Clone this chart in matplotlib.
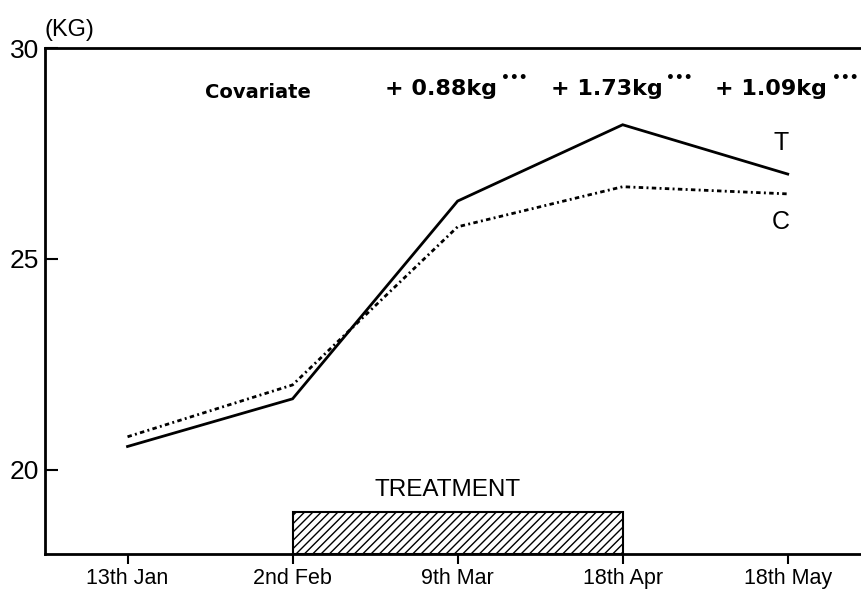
import matplotlib
matplotlib.use("Agg")
import matplotlib.pyplot as plt
from matplotlib.patches import Rectangle

plt.rcParams['font.family'] = ['Liberation Sans', 'DejaVu Sans']

dates = ["13th Jan", "2nd Feb", "9th Mar", "18th Apr", "18th May"]
treated = [20.55, 21.68, 26.37, 28.18, 27.01]
control = [20.78, 22.01, 25.76, 26.71, 26.54]
differences = ["+ 0.88kg", "+ 1.73kg", "+ 1.09kg"]
diff_positions = [2, 3, 4]
yticks = [20, 25, 30]
treatment_start, treatment_end = 1, 3

fig = plt.figure(figsize=(8.62, 5.90), dpi=100)
ax = fig.add_axes([45/862, 36/590, 1 - 45/862, (554 - 48)/590])

x = list(range(len(dates)))
ax.plot(x, treated, color='black', lw=2.0, solid_joinstyle='miter')
ax.plot(x, control, color='black', lw=2.0, linestyle=(0, (1.6, 1.2, 0.7, 1.2)))

ax.add_patch(Rectangle((treatment_start, 18), treatment_end - treatment_start, 1.0,
                       facecolor='white', edgecolor='black', lw=1.5, hatch='////'))
ax.text((treatment_start + treatment_end) / 2 - 0.06, 19.52, "TREATMENT",
        ha='center', va='center', fontsize=17.5)

ax.set_xlim(-0.5, 4.45)
ax.set_ylim(18, 30)
ax.set_xticks(x)
ax.set_xticklabels(dates, fontsize=15.5)
ax.set_yticks(yticks)
ax.set_yticklabels([str(v) for v in yticks], fontsize=19)
ax.tick_params(axis='x', direction='out', length=7, width=1.5, pad=3)
ax.tick_params(axis='y', direction='in', length=9, width=1.5, pad=4)

for s in ['left', 'top', 'bottom']:
    ax.spines[s].set_linewidth(2.0)
ax.spines['right'].set_visible(False)

ax.text(-0.5, 30.17, "(KG)", fontsize=17, ha='left', va='bottom')

ax.text(0.79, 28.95, "Covariate", fontsize=14, fontweight='bold', ha='center',
        va='center', family='DejaVu Sans')
for xp, d in zip(diff_positions, differences):
    ax.annotate(d, (xp + 0.24, 29.02), ha='right', va='center', fontsize=16,
                fontweight='bold', family='DejaVu Sans')
    ax.annotate("•••", (xp + 0.24, 29.30), xytext=(3, 0), textcoords='offset points',
                ha='left', va='center', fontsize=10, fontweight='bold',
                family='DejaVu Sans')

ax.text(3.96, 27.75, "T", fontsize=18, ha='center', va='center')
ax.text(3.96, 25.87, "C", fontsize=18, ha='center', va='center')

fig.savefig("out.png", dpi=100)
